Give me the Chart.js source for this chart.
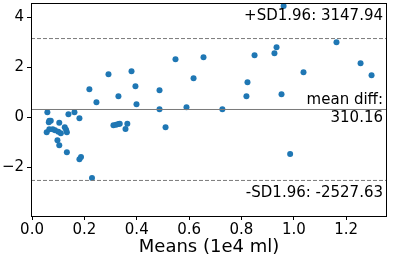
<!DOCTYPE html>
<html>
<head>
<meta charset="utf-8">
<script src="https://cdn.jsdelivr.net/npm/chart.js@4/dist/chart.umd.min.js"></script>
<style>
html,body{margin:0;padding:0;background:#fff;}
#wrap{width:393px;height:258px;position:relative;}
</style>
</head>
<body>
<div id="wrap"><canvas id="c" width="393" height="258"></canvas></div>
<script>
// Means (1e4 ml)
const means = [0.0585,0.066,0.0715,0.064,0.104,0.139,0.162,0.181,0.056,0.066,0.079,0.088,0.1005,0.110,0.125,0.130,0.133,0.097,0.104,0.133,0.181,0.187,0.229,0.311,0.321,0.330,0.335,0.357,0.364,0.510,0.219,0.246,0.292,0.330,0.380,0.395,0.399,0.487,0.487,0.548,0.590,0.617,0.655,0.727,0.823,0.819,0.850,0.926,0.934,0.961,0.953,0.986,1.037,1.163,1.255,1.297];
// Differences (1e3 ml)
const diffs = [0.20,-0.136,-0.136,-0.20,-0.216,0.12,0.20,-0.04,-0.60,-0.48,-0.48,-0.52,-0.576,-0.64,-0.40,-0.496,-0.60,-0.92,-1.12,-1.40,-1.68,-1.59,-2.43,-0.32,-0.296,-0.268,-0.256,-0.47,-0.256,-0.40,1.12,0.60,1.72,0.84,1.84,1.24,0.52,1.08,0.32,2.32,0.40,1.56,2.40,0.32,1.40,0.84,2.48,2.56,2.80,4.45,0.92,-1.47,1.80,3.00,2.16,1.68];
const meanDiff = 310.16;
const upperSD = 3147.94;
const lowerSD = -2527.63;
const xTicks = [0.0,0.2,0.4,0.6,0.8,1.0,1.2];
const yTicks = [-2,0,2,4];
const xRange = [-0.004,1.356];
const yRange = [-3.95,4.57];

const points = means.map((m,i)=>({x:m,y:diffs[i]}));
const hline = v => [{x:xRange[0],y:v/1000},{x:xRange[1],y:v/1000}];
const FONT = "'DejaVu Sans', sans-serif";

const deco = {
  id:'deco',
  afterDraw(chart){
    const {ctx, chartArea:a, scales:{y}} = chart;
    ctx.save();
    ctx.strokeStyle = '#000';
    ctx.lineWidth = 1;
    ctx.strokeRect(Math.round(a.left)+0.5, Math.round(a.top)+0.5, Math.round(a.right-a.left)-1, Math.round(a.bottom-a.top));
    ctx.fillStyle = '#000';
    ctx.font = '15px ' + FONT;
    ctx.textAlign = 'right';
    ctx.textBaseline = 'alphabetic';
    const xr = a.right - 4;
    const yu = y.getPixelForValue(upperSD/1000);
    const ym = y.getPixelForValue(meanDiff/1000);
    const yl = y.getPixelForValue(lowerSD/1000);
    ctx.fillText('+SD1.96: ' + upperSD.toFixed(2), xr, yu - 19);
    ctx.fillText('mean diff:', xr, ym - 5);
    ctx.fillText(meanDiff.toFixed(2), xr, ym + 12.5);
    ctx.fillText('-SD1.96: ' + lowerSD.toFixed(2), xr, yl + 17);
    ctx.restore();
  }
};

new Chart(document.getElementById('c'), {
  type:'scatter',
  data:{
    datasets:[
      {data:hline(meanDiff), type:'line', borderColor:'#7a7a7a', borderWidth:1, pointRadius:0, fill:false},
      {data:hline(upperSD), type:'line', borderColor:'#7a7a7a', borderWidth:1, borderDash:[4,2], pointRadius:0, fill:false},
      {data:hline(lowerSD), type:'line', borderColor:'#7a7a7a', borderWidth:1, borderDash:[4,2], pointRadius:0, fill:false},
      {data:points, backgroundColor:'#1f77b4', borderColor:'#1f77b4', borderWidth:0, pointRadius:3, pointHoverRadius:3}
    ]
  },
  options:{
    responsive:false,
    animation:false,
    devicePixelRatio:1,
    layout:{padding:{top:3,right:6,left:0,bottom:0}},
    plugins:{legend:{display:false},tooltip:{enabled:false}},
    scales:{
      x:{
        type:'linear', min:xRange[0], max:xRange[1],
        afterBuildTicks:s=>{s.ticks = xTicks.map(v=>({value:v}));},
        afterFit:s=>{s.height = 42; s.paddingLeft = 0; s.paddingRight = 0;},
        grid:{display:true, drawOnChartArea:false, drawTicks:true, tickLength:4, color:'#000', tickColor:'#000'},
        border:{display:false},
        ticks:{color:'#000', font:{family:FONT,size:15}, padding:1, maxRotation:0, autoSkip:false, callback:v=>v.toFixed(1)},
        title:{display:true, text:'Means (1e4 ml)', color:'#000', font:{family:FONT,size:18}, padding:{top:0,bottom:0}}
      },
      y:{
        type:'linear', min:yRange[0], max:yRange[1],
        afterBuildTicks:s=>{s.ticks = yTicks.map(v=>({value:v}));},
        afterFit:s=>{s.width = 31; s.paddingTop = 0; s.paddingBottom = 0;},
        grid:{display:true, drawOnChartArea:false, drawTicks:true, tickLength:4, color:'#000', tickColor:'#000'},
        border:{display:false},
        ticks:{color:'#000', font:{family:FONT,size:15}, padding:3, autoSkip:false, callback:v=>(v<0?'\u2212'+Math.abs(v):String(v))}
      }
    }
  },
  plugins:[deco]
});
</script>
</body>
</html>
